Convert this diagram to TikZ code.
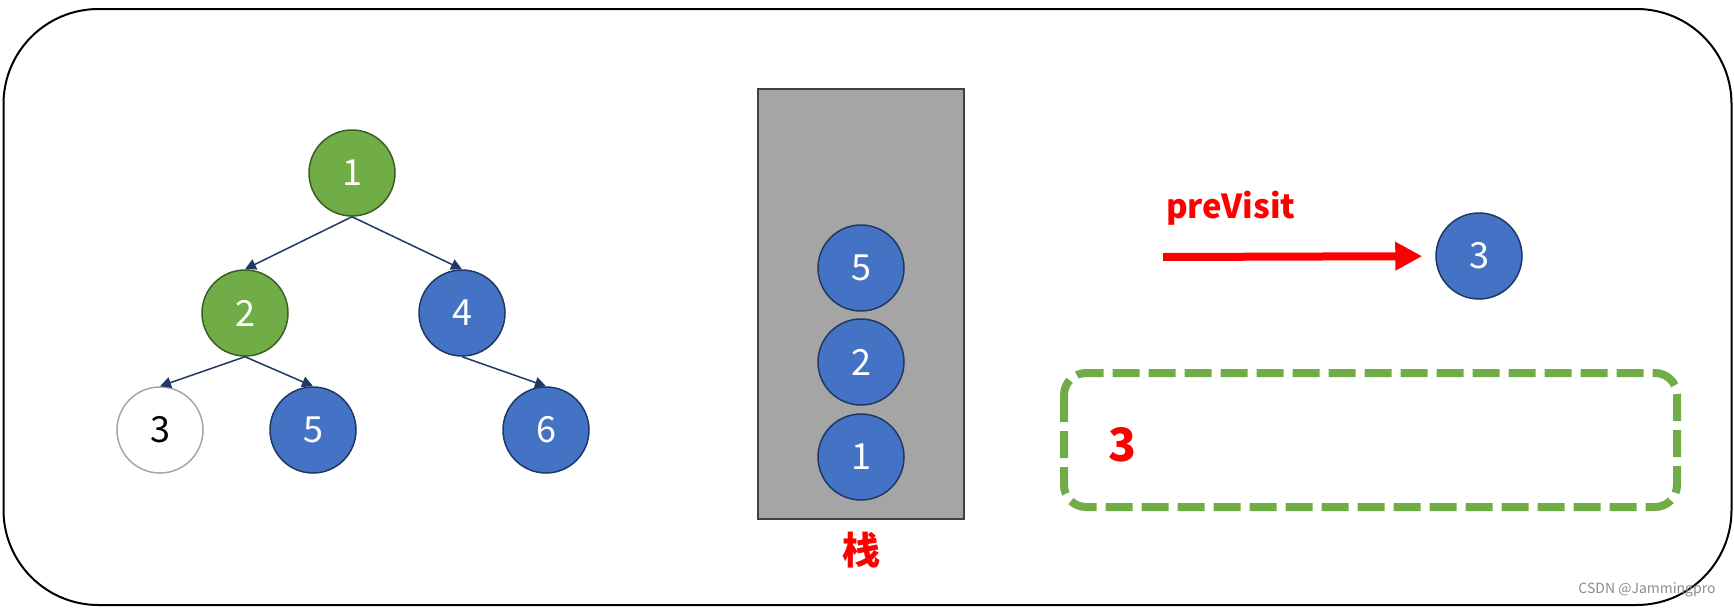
\documentclass[tikz,border=0pt]{standalone}
\usepackage{fontspec}
\setmainfont{Noto Sans CJK SC}
\usetikzlibrary{arrows.meta}
\definecolor{gfill}{HTML}{70AD47}
\definecolor{gline}{HTML}{3B5E25}
\definecolor{bfill}{HTML}{4472C4}
\definecolor{bline}{HTML}{1F3864}
\definecolor{edgec}{HTML}{1F3864}
\definecolor{stackfill}{HTML}{A5A5A5}
\definecolor{stackline}{HTML}{404040}
\definecolor{wline}{HTML}{A6A6A6}
\definecolor{pred}{HTML}{FF0000}
\tikzset{
  tnode/.style={circle, minimum size=86pt, inner sep=0pt, line width=1.5pt, font=\fontsize{36}{40}\selectfont},
  greennode/.style={tnode, fill=gfill, draw=gline, text=white},
  bluenode/.style={tnode, fill=bfill, draw=bline, text=white},
  whitenode/.style={tnode, fill=white, draw=wline, text=black},
  treeedge/.style={draw=edgec, line width=1.5pt, -{Triangle[length=11pt,width=11pt]}},
  redarrow/.style={draw=pred, line width=8pt, -{Triangle[length=27pt,width=27pt]}},
  stackbox/.style={draw=stackline, fill=stackfill, line width=2.5pt, minimum width=206pt, minimum height=430pt, inner sep=0pt},
  outerframe/.style={draw=black, line width=2pt, rounded corners=95pt},
  resultbox/.style={draw=gfill, line width=8pt, rounded corners=22pt, dash pattern=on 27pt off 9pt},
  redlabel/.style={text=pred, font=\bfseries\fontsize{33}{38}\selectfont, inner sep=0pt}
}
\begin{document}
\begin{tikzpicture}[x=1pt, y=-1pt]
\useasboundingbox (0,0) rectangle (1734,608);
\draw[outerframe] (3.5,9) rectangle (1731.5,605);

% tree
\node[greennode] (n1) at (352,173) {1};
\node[greennode] (n2) at (245,313) {2};
\node[bluenode]  (n4) at (462,313) {4};
\node[whitenode] (n3) at (160,430) {3};
\node[bluenode]  (n5) at (313,430) {5};
\node[bluenode]  (n6) at (546,430) {6};
\draw[treeedge] (n1.south) -- (n2.north);
\draw[treeedge] (n1.south) -- (n4.north);
\draw[treeedge] (n2.south) -- (n3.north);
\draw[treeedge] (n2.south) -- (n5.north);
\draw[treeedge] (n4.south) -- (n6.north);

% stack
\node[stackbox] (stack) at (861,304) {};
\node[bluenode] (s5) at (861,268) {5};
\node[bluenode] (s2) at (861,362) {2};
\node[bluenode] (s1) at (861,457) {1};
\node[text=pred, font=\bfseries\fontsize{38}{42}\selectfont, inner sep=0pt] (stacklabel) at (861,550) {栈};

% preVisit
\node[redlabel, anchor=base west] (pv) at (1166,218) {preVisit};
\node[bluenode] (p3) at (1479,256) {3};
\coordinate (as) at (1163,257);
\draw[redarrow, shorten >=13pt] (as) -- (p3);

% result box
\draw[resultbox] (1064,373) rectangle (1677,507);
\node[text=pred, font=\bfseries\fontsize{46}{50}\selectfont, inner sep=0pt] (res3) at (1122.5,444.5) {3};

% watermark
\node[text=black!45, font=\fontsize{14}{16}\selectfont, inner sep=0pt] (wm) at (1647,590) {CSDN @Jammingpro};
\end{tikzpicture}
\end{document}
